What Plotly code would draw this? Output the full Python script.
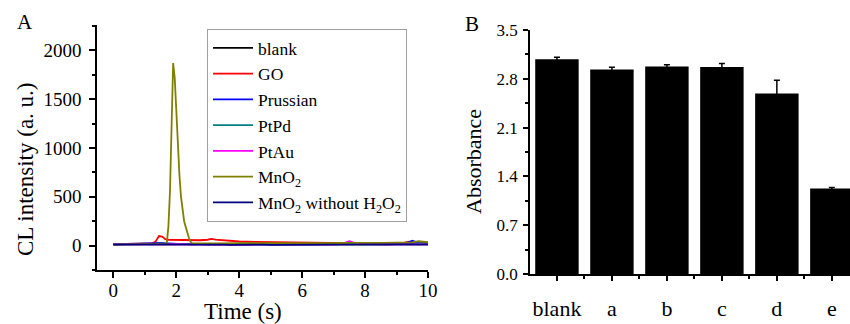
import plotly.graph_objects as go

# ---------- Panel A data (CL intensity vs time) ----------
t = [0, 0.25, 0.5, 0.75, 1, 1.25, 1.5, 1.75, 2, 2.25, 2.5, 2.75, 3, 3.25, 3.5, 3.75, 4,
     4.25, 4.5, 4.75, 5, 5.25, 5.5, 5.75, 6, 6.25, 6.5, 6.75, 7, 7.25, 7.5, 7.75, 8,
     8.25, 8.5, 8.75, 9, 9.25, 9.5, 9.75, 10]

blank = [12, 14, 11, 20, 15, 18, 22, 16, 14, 13, 17, 15, 14, 16, 13, 15, 12, 14, 16, 13,
         15, 14, 12, 16, 14, 13, 15, 12, 14, 16, 13, 15, 14, 12, 16, 13, 15, 14, 12, 18, 15]

t_go = [0, 0.25, 0.5, 0.75, 1, 1.25, 1.35, 1.45, 1.55, 1.65, 1.75, 2, 2.25, 2.5, 2.75, 3,
        3.1, 3.25, 3.5, 3.75, 4, 4.5, 5, 5.5, 6, 6.5, 7, 7.5, 8, 8.5, 9, 9.25, 9.4, 9.55,
        9.75, 10]
go_vals = [15, 16, 14, 18, 17, 22, 45, 98, 92, 66, 60, 58, 57, 56, 55, 60, 68, 62, 55, 48,
           42, 38, 35, 33, 30, 28, 27, 26, 28, 25, 27, 30, 40, 28, 30, 28]

prussian = [14, 15, 13, 16, 18, 22, 25, 20, 15, 16, 14, 15, 17, 14, 15, 16, 14, 13, 15, 16,
            14, 15, 13, 14, 16, 15, 14, 13, 15, 14, 16, 15, 14, 13, 15, 14, 16, 15, 50, 22, 20]

ptpd = [16, 15, 17, 14, 16, 18, 20, 22, 18, 16, 17, 15, 16, 18, 17, 19, 18, 20, 17, 18,
        19, 17, 18, 20, 22, 19, 18, 17, 19, 18, 20, 22, 19, 18, 17, 19, 18, 20, 22, 25, 24]

ptau = [12, 13, 11, 14, 12, 13, 14, 12, 15, 13, 12, 14, 13, 12, 14, 13, 12, 11, 13, 12,
        8, 10, 12, 13, 12, 14, 13, 12, 14, 15, 45, 18, 14, 13, 12, 14, 13, 12, 11, 14, 13]

t_mn = [0, 0.5, 1, 1.25, 1.5, 1.65, 1.7, 1.75, 1.8, 1.85, 1.9, 1.95, 2, 2.05, 2.1, 2.15,
        2.2, 2.25, 2.3, 2.35, 2.4, 2.45, 2.5, 2.75, 3, 3.5, 4, 4.5, 5, 5.5, 6, 6.5, 7, 7.5,
        8, 8.5, 9, 9.5, 9.7, 9.85, 10]
mno2 = [10, 12, 14, 15, 16, 18, 30, 200, 560, 1150, 1870, 1720, 1380, 1000, 720, 500,
        340, 250, 190, 130, 80, 40, 25, 22, 20, 22, 25, 24, 22, 25, 23, 26, 24, 27, 25, 28,
        30, 32, 45, 38, 35]

mno2_no_h2o2 = [10, 11, 9, 10, 12, 11, 10, 12, 9, 10, 11, 10, 9, 11, 10, 8, 10, 11, 9, 10,
                8, 9, 11, 10, 12, 10, 9, 11, 10, 9, 10, 11, 10, 9, 11, 10, 9, 10, 11, 10, 11]

series_names = ["blank", "GO", "Prussian", "PtPd", "PtAu", "MnO<sub>2</sub>",
                "MnO<sub>2</sub> without H<sub>2</sub>O<sub>2</sub>"]
series_colors = ["#000000", "#FF0000", "#0000FF", "#008080", "#FF00FF", "#808000", "#000080"]
series_x = [t, t_go, t, t, t, t_mn, t]
series_y = [blank, go_vals, prussian, ptpd, ptau, mno2, mno2_no_h2o2]

# ---------- Panel B data (Absorbance bars) ----------
categories = ["blank", "a", "b", "c", "d", "e"]
absorbance = [3.08, 2.935, 2.975, 2.97, 2.59, 1.225]
abs_err = [0.03, 0.03, 0.025, 0.05, 0.19, 0.015]
y2_ticks = [0, 0.7, 1.4, 2.1, 2.8, 3.5]
y2_ticktext = ["0.0", "0.7", "1.4", "2.1", "2.8", "3.5"]

SERIF = "Liberation Serif"
W, H = 850, 324

fig = go.Figure()

for name, col, xs, ys in zip(series_names, series_colors, series_x, series_y):
    fig.add_trace(go.Scatter(x=xs, y=ys, mode="lines", name=name,
                             line=dict(color=col, width=1.8),
                             xaxis="x", yaxis="y"))

fig.add_trace(go.Bar(x=list(range(len(categories))), y=absorbance,
                     marker=dict(color="#000000", line=dict(width=0)),
                     width=0.79, showlegend=False,
                     error_y=dict(type="data", array=abs_err, symmetric=True,
                                  color="#000000", thickness=1.5, width=3),
                     xaxis="x2", yaxis="y2"))

axis_common = dict(showgrid=False, zeroline=False, showline=True, linecolor="#000000",
                   linewidth=1.5, ticks="outside", tickcolor="#000000", tickwidth=1.5,
                   mirror=False, automargin=False)

fig.update_layout(
    template="none",
    width=W, height=H,
    margin=dict(l=0, r=0, t=0, b=0, pad=0),
    paper_bgcolor="white", plot_bgcolor="white",
    font=dict(family=SERIF, color="#000000"),
    xaxis=dict(domain=[97 / W, 428 / W], range=[-0.52, 10.0], tickvals=[0, 2, 4, 6, 8, 10],
               ticklen=6, ticklabelstandoff=-4, tickfont=dict(size=19, family=SERIF, color="#000000"),
               minor=dict(ticks="outside", ticklen=3, dtick=1, tick0=0,
                          tickcolor="#000000", tickwidth=1.5),
               anchor="y", **axis_common),
    yaxis=dict(domain=[(H - 270) / H, (H - 25) / H], range=[-250, 2260],
               tickvals=[0, 500, 1000, 1500, 2000], ticklen=6, ticklabelstandoff=4,
               tickfont=dict(size=19, family=SERIF, color="#000000"),
               minor=dict(ticks="outside", ticklen=3, dtick=250, tick0=0,
                          tickcolor="#000000", tickwidth=1.5),
               anchor="x", **axis_common),
    xaxis2=dict(domain=[530 / W, 1.0], range=[-0.49, 5.33],
                tickvals=list(range(len(categories))), ticktext=categories,
                ticklen=5, ticklabelstandoff=9, tickfont=dict(size=22, family=SERIF, color="#000000"),
                minor=dict(ticks="outside", ticklen=3, dtick=0.5, tick0=0,
                           tickcolor="#000000", tickwidth=1.5),
                anchor="y2", **axis_common),
    yaxis2=dict(domain=[(H - 274) / H, (H - 30) / H], range=[0, 3.5],
                tickvals=y2_ticks, ticktext=y2_ticktext,
                ticklen=5, ticklabelstandoff=2, tickfont=dict(size=17, family=SERIF, color="#000000"),
                minor=dict(ticks="outside", ticklen=3, dtick=0.35, tick0=0,
                           tickcolor="#000000", tickwidth=1.5),
                anchor="x2", **axis_common),
    legend=dict(x=207 / W, xanchor="left", y=1 - 29 / H, yanchor="top",
                bgcolor="white", bordercolor="#A0A0A0", borderwidth=1,
                font=dict(size=17.5, family=SERIF, color="#000000"), tracegroupgap=0,
                itemwidth=40),
    annotations=[
        dict(text="A", x=25 / W, y=1 - 22 / H, xref="paper", yref="paper",
             showarrow=False, font=dict(size=21, family=SERIF), xanchor="center", yanchor="middle"),
        dict(text="B", x=472 / W, y=1 - 24 / H, xref="paper", yref="paper",
             showarrow=False, font=dict(size=21, family=SERIF), xanchor="center", yanchor="middle"),
        dict(text="CL intensity (a. u.)", x=25 / W, y=1 - 169 / H, xref="paper", yref="paper",
             showarrow=False, textangle=-90, font=dict(size=23, family=SERIF),
             xanchor="center", yanchor="middle"),
        dict(text="Time (s)", x=243 / W, y=1 - 311 / H, xref="paper", yref="paper",
             showarrow=False, font=dict(size=23, family=SERIF), xanchor="center", yanchor="middle"),
        dict(text="Absorbance", x=473 / W, y=1 - 162 / H, xref="paper", yref="paper",
             showarrow=False, textangle=-90, font=dict(size=22, family=SERIF),
             xanchor="center", yanchor="middle"),
    ],
)

fig.write_html("out.html", config={"displayModeBar": False},
               post_script="document.body.style.margin='0';document.body.style.overflow='hidden';")
